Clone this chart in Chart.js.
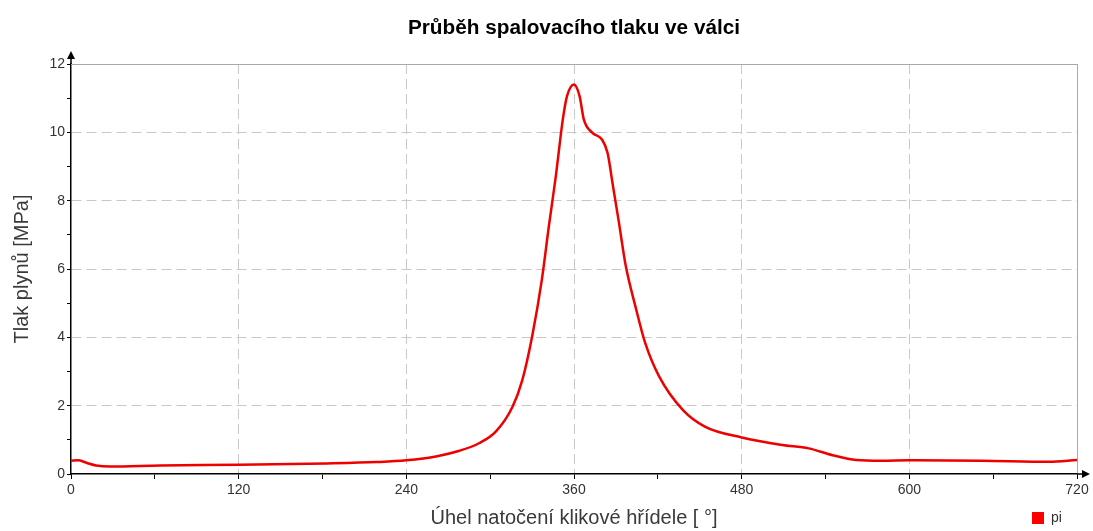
<!DOCTYPE html>
<html>
<head>
<meta charset="utf-8">
<script src="https://cdn.jsdelivr.net/npm/chart.js@4.4.1/dist/chart.umd.min.js"></script>
<style>
  html, body { margin: 0; padding: 0; background: #fff; }
  #wrap { width: 1093px; height: 531px; }
</style>
</head>
<body>
<div id="wrap"><canvas id="c" width="1093" height="531"></canvas></div>
<script>
// ---- data ----
const chartTitle = 'Průběh spalovacího tlaku ve válci';
const xTitle = 'Úhel natočení klikové hřídele [ °]';
const yTitle = 'Tlak plynů [MPa]';
const seriesName = 'pi';
const angles = [0, 5, 11, 18, 28, 64, 120, 183, 219, 240, 262, 278, 292, 304, 316, 323, 330, 337, 342, 347, 352, 355, 360, 364, 367, 373, 380, 384, 388, 392, 397, 404, 411, 421, 438, 454, 480, 509, 528, 545, 562, 580, 600, 652, 700, 720];
const pressures = [0.39, 0.40, 0.33, 0.25, 0.22, 0.25, 0.27, 0.31, 0.35, 0.40, 0.52, 0.68, 0.90, 1.24, 1.97, 2.75, 4.02, 5.69, 7.25, 8.72, 10.38, 11.06, 11.40, 11.06, 10.38, 9.99, 9.79, 9.40, 8.40, 7.40, 6.10, 4.90, 3.83, 2.85, 1.87, 1.38, 1.07, 0.85, 0.75, 0.55, 0.41, 0.39, 0.40, 0.39, 0.36, 0.41];
const xMin = 0, xMax = 720, xStep = 60, xLabelStep = 120;
const yMin = 0, yMax = 12, yStep = 1, yLabelStep = 2;

const points = angles.map((a, i) => ({ x: a, y: pressures[i] }));

Chart.defaults.font.family = '"Liberation Sans", Arial, sans-serif';

const RED = '#ee0000';
const GRID = '#c8c8c8';

const frameAndArrows = {
  id: 'frameAndArrows',
  afterLayout(chart) {
    const lg = chart.legend;
    if (lg) {
      lg.left = 1022; lg.right = lg.left + 60;
      lg.top = 501; lg.bottom = 530;
    }
  },
  beforeDatasetsDraw(chart) {
    const { ctx, chartArea: a } = chart;
    ctx.save();
    ctx.strokeStyle = '#a8a8a8';
    ctx.lineWidth = 1;
    ctx.beginPath();
    ctx.moveTo(a.left, Math.round(a.top) + 0.5);
    ctx.lineTo(a.right, Math.round(a.top) + 0.5);
    ctx.moveTo(Math.round(a.right) + 0.5, a.top);
    ctx.lineTo(Math.round(a.right) + 0.5, a.bottom);
    ctx.stroke();
    ctx.restore();
  },
  afterDraw(chart) {
    const { ctx } = chart;
    const xs = chart.scales.x, ys = chart.scales.y;
    const x0 = xs.getPixelForValue(xMin), x1 = xs.getPixelForValue(xMax);
    const y0 = ys.getPixelForValue(yMin), y1 = ys.getPixelForValue(yMax);
    ctx.save();
    ctx.strokeStyle = '#000';
    ctx.fillStyle = '#000';
    ctx.lineWidth = 1.5;
    ctx.beginPath();
    ctx.moveTo(x0, y1); ctx.lineTo(x0, y1 - 7);
    ctx.moveTo(x1, y0); ctx.lineTo(x1 + 7, y0);
    ctx.stroke();
    ctx.beginPath();
    ctx.moveTo(x0, y1 - 13); ctx.lineTo(x0 - 4, y1 - 5); ctx.lineTo(x0 + 4, y1 - 5); ctx.closePath();
    ctx.fill();
    ctx.beginPath();
    ctx.moveTo(x1 + 13, y0); ctx.lineTo(x1 + 5, y0 - 4); ctx.lineTo(x1 + 5, y0 + 4); ctx.closePath();
    ctx.fill();
    ctx.restore();
  }
};

new Chart(document.getElementById('c'), {
  type: 'line',
  data: {
    datasets: [{
      label: seriesName,
      data: points,
      borderColor: RED,
      backgroundColor: '#ff0000',
      borderWidth: 2.5,
      pointRadius: 0,
      fill: false,
      cubicInterpolationMode: 'monotone'
    }]
  },
  options: {
    responsive: false,
    animation: false,
    devicePixelRatio: 1,
    layout: { padding: { left: 0, right: 16, top: 0, bottom: 0 } },
    plugins: {
      title: {
        display: true,
        fullSize: false,
        text: chartTitle,
        color: '#000',
        font: { size: 20.75, weight: 'bold', lineHeight: 1.2 },
        padding: { top: 15.5, bottom: 23.6 }
      },
      legend: {
        display: true,
        position: 'bottom',
        align: 'start',
        maxHeight: 1,
        labels: {
          boxWidth: 12,
          boxHeight: 12,
          padding: 10,
          color: '#333',
          font: { size: 14 },
          generateLabels(chart) {
            return Chart.defaults.plugins.legend.labels.generateLabels(chart).map(it => {
              it.lineWidth = 0; it.fillStyle = '#ff0000'; it.strokeStyle = '#ff0000';
              return it;
            });
          }
        }
      },
      tooltip: { enabled: false }
    },
    scales: {
      x: {
        type: 'linear',
        min: xMin, max: xMax,
        afterFit(s) { s.height = 56; },
        ticks: {
          stepSize: xStep,
          autoSkip: false,
          maxRotation: 0,
          color: '#333',
          font: { size: 14 },
          padding: 3,
          callback: v => (v % xLabelStep === 0 ? String(v) : '')
        },
        grid: {
          color: c => (c.tick && c.tick.value % xLabelStep === 0 && c.tick.value > xMin && c.tick.value < xMax) ? GRID : 'rgba(0,0,0,0)',
          lineWidth: 1,
          tickColor: '#000',
          tickLength: 5,
          tickWidth: 1
        },
        border: { display: true, color: '#000', width: 1.5, dash: [10, 5] },
        title: {
          display: true,
          text: xTitle,
          color: '#3a3a3a',
          font: { size: 20, lineHeight: 1.2 },
          padding: { top: 0, bottom: 0 }
        }
      },
      y: {
        type: 'linear',
        min: yMin, max: yMax,
        afterFit(s) { s.width = 71; },
        ticks: {
          stepSize: yStep,
          color: '#333',
          font: { size: 14 },
          padding: 2,
          callback: v => (v % yLabelStep === 0 ? String(v) : '')
        },
        grid: {
          color: c => (c.tick && c.tick.value % yLabelStep === 0 && c.tick.value > yMin && c.tick.value < yMax) ? GRID : 'rgba(0,0,0,0)',
          lineWidth: 1,
          tickColor: '#000',
          tickLength: 4,
          tickWidth: 1
        },
        border: { display: true, color: '#000', width: 1.5, dash: [10, 5] },
        title: {
          display: true,
          text: yTitle,
          color: '#3a3a3a',
          font: { size: 20, lineHeight: 1.2 },
          padding: { top: 10, bottom: 0 }
        }
      }
    }
  },
  plugins: [frameAndArrows]
});
</script>
</body>
</html>
